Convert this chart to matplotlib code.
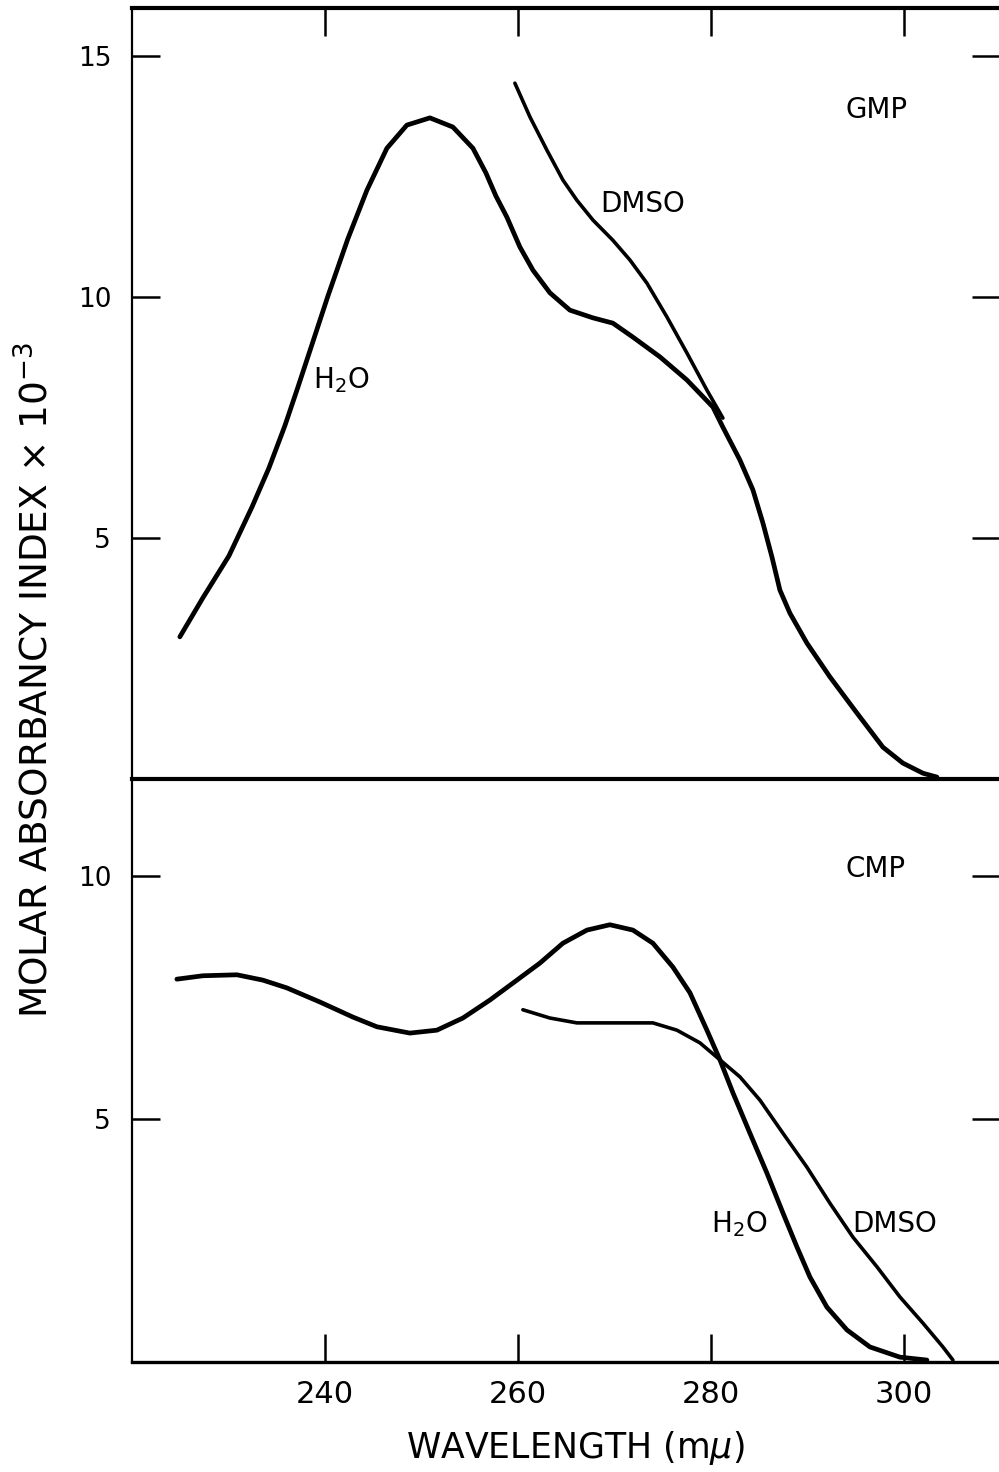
import matplotlib
matplotlib.use("Agg")
import matplotlib.pyplot as plt

plt.rcParams['font.family'] = ['DejaVu Sans']
plt.rcParams['mathtext.fontset'] = 'dejavusans'

# ---- data (wavelength in m\u03bc, molar absorbancy index x 10^-3) ----
gmp_h2o_x = [224.96, 227.35, 230.05, 232.43, 234.19, 235.85, 237.20, 238.65, 240.31, 242.38,
             244.36, 246.43, 248.50, 250.89, 253.27, 255.35, 256.69, 257.73, 258.87, 260.22,
             261.57, 263.33, 265.40, 267.79, 269.86, 271.94, 274.74, 277.54, 280.23, 281.27,
             283.03, 284.38, 285.42, 286.35, 287.18, 288.22, 289.98, 292.36, 295.16, 297.86,
             299.93, 302.01, 303.46]
gmp_h2o_y = [2.95, 3.76, 4.63, 5.64, 6.45, 7.33, 8.13, 9.01, 10.02, 11.21,
             12.22, 13.09, 13.57, 13.72, 13.53, 13.09, 12.58, 12.10, 11.66, 11.04,
             10.56, 10.09, 9.73, 9.57, 9.46, 9.17, 8.76, 8.28, 7.72, 7.30,
             6.62, 6.00, 5.31, 4.61, 3.92, 3.44, 2.82, 2.12, 1.37, 0.66,
             0.33, 0.12, 0.04]

gmp_dmso_x = [259.70, 261.26, 263.02, 264.68, 266.13, 267.79, 269.86, 271.63, 273.39,
              275.46, 277.54, 279.61, 281.27]
gmp_dmso_y = [14.44, 13.74, 13.05, 12.43, 12.01, 11.60, 11.18, 10.77, 10.29,
              9.59, 8.84, 8.07, 7.49]

cmp_h2o_x = [224.65, 227.35, 230.88, 233.57, 236.06, 239.48, 242.90, 245.39, 248.81, 251.61,
             254.31, 257.11, 259.91, 262.29, 264.68, 267.17, 269.55, 271.94, 274.01, 276.08,
             277.85, 279.61, 280.96, 282.31, 284.07, 285.83, 287.49, 288.94, 290.29, 292.05,
             294.13, 296.51, 299.62, 302.42]
cmp_h2o_y = [7.88, 7.95, 7.97, 7.86, 7.70, 7.41, 7.10, 6.90, 6.77, 6.83,
             7.08, 7.45, 7.86, 8.21, 8.62, 8.89, 9.00, 8.89, 8.62, 8.13,
             7.60, 6.83, 6.22, 5.54, 4.71, 3.89, 3.07, 2.37, 1.75, 1.13,
             0.66, 0.31, 0.10, 0.04]

cmp_dmso_x = [260.53, 263.33, 266.13, 270.28, 274.01, 276.50, 278.88, 280.96, 283.03, 285.11,
              287.49, 289.98, 292.36, 294.75, 297.24, 299.62, 302.01, 304.08, 305.12]
cmp_dmso_y = [7.25, 7.08, 6.98, 6.98, 6.98, 6.83, 6.57, 6.22, 5.87, 5.39,
              4.71, 4.01, 3.27, 2.57, 1.96, 1.34, 0.80, 0.31, 0.04]

x_ticks = [240, 260, 280, 300]
gmp_yticks = [5, 10, 15]
cmp_yticks = [5, 10]

W, H = 999, 1472
fig = plt.figure(figsize=(W / 100, H / 100), dpi=100)
left = 132 / W
right = 1000 / W
y_top = 1 - 8 / H
y_mid = 1 - 779 / H
y_bot = 1 - 1362 / H

axB = fig.add_axes([left, y_bot, right - left, y_mid - y_bot])
axT = fig.add_axes([left, y_mid, right - left, y_top - y_mid])
axB.patch.set_visible(False)
axT.patch.set_visible(False)

lw_h2o = 3.4
lw_dmso = 2.6
style = dict(color='black', solid_capstyle='round', solid_joinstyle='round')

axT.plot(gmp_h2o_x, gmp_h2o_y, lw=lw_h2o, **style)
axT.plot(gmp_dmso_x, gmp_dmso_y, lw=lw_dmso, **style)
axB.plot(cmp_h2o_x, cmp_h2o_y, lw=lw_h2o, **style)
axB.plot(cmp_dmso_x, cmp_dmso_y, lw=lw_dmso, **style)

for ax in (axT, axB):
    ax.set_xlim(220, 310)
    ax.spines['right'].set_visible(False)
    ax.spines['left'].set_linewidth(1.6)
    ax.set_xticks(x_ticks)
    ax.tick_params(axis='both', direction='in', length=20, width=1.8, colors='black')
    ax.tick_params(axis='y', left=True, right=True, labelsize=19, pad=15)

axT.set_ylim(0, 16)
axT.set_yticks(gmp_yticks)
axT.spines['top'].set_linewidth(3.0)
axT.spines['bottom'].set_linewidth(3.0)
axT.tick_params(axis='x', bottom=False, top=True, labelbottom=False, labeltop=False)

axB.set_ylim(0, 12)
axB.set_yticks(cmp_yticks)
axB.spines['top'].set_visible(False)
axB.spines['bottom'].set_linewidth(2.4)
axB.tick_params(axis='x', bottom=True, top=False, labelbottom=True, labelsize=22, pad=13)

# annotations
fs = 20
axT.text(297.2, 13.72, 'GMP', fontsize=fs, ha='center', va='baseline')
axT.text(272.9, 11.76, 'DMSO', fontsize=fs, ha='center', va='baseline')
axT.text(241.7, 8.10, r'H$_2$O', fontsize=fs, ha='center', va='baseline')
axB.text(297.1, 9.98, 'CMP', fontsize=fs, ha='center', va='baseline')
axB.text(283.0, 2.67, r'H$_2$O', fontsize=fs, ha='center', va='baseline')
axB.text(299.1, 2.67, 'DMSO', fontsize=fs, ha='center', va='baseline')

fig.text(575 / W, 1 - 1458 / H, r'WAVELENGTH (m$\mu$)', fontsize=25, ha='center', va='baseline')
fig.text(37 / W, 1 - 680 / H, r'MOLAR ABSORBANCY INDEX $\times$ 10$^{-3}$', fontsize=27,
         rotation=90, ha='center', va='center')

fig.savefig('out.png', dpi=100)
